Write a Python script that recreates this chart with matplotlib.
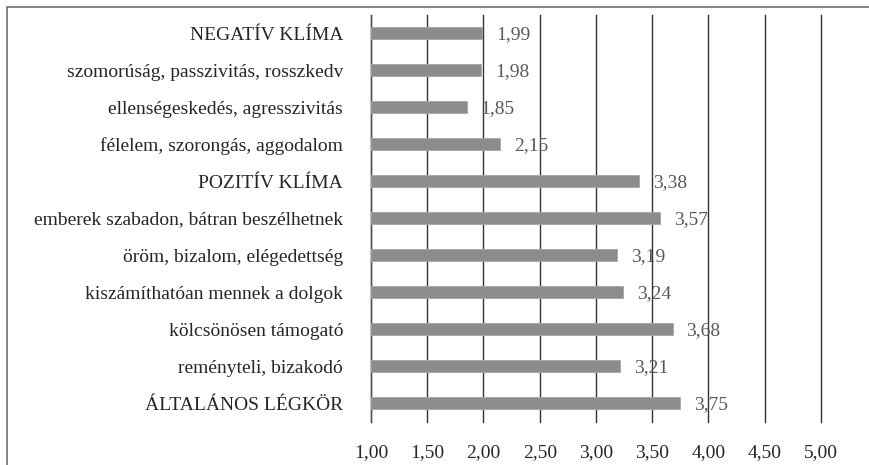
import matplotlib.pyplot as plt
from matplotlib.patches import Rectangle

categories = [
    "NEGATÍV KLÍMA",
    "szomorúság, passzivitás, rosszkedv",
    "ellenségeskedés, agresszivitás",
    "félelem, szorongás, aggodalom",
    "POZITÍV KLÍMA",
    "emberek szabadon, bátran beszélhetnek",
    "öröm, bizalom, elégedettség",
    "kiszámíthatóan mennek a dolgok",
    "kölcsönösen támogató",
    "reményteli, bizakodó",
    "ÁLTALÁNOS LÉGKÖR",
]
values = [1.99, 1.98, 1.85, 2.15, 3.38, 3.57, 3.19, 3.24, 3.68, 3.21, 3.75]
xticks = [1.0, 1.5, 2.0, 2.5, 3.0, 3.5, 4.0, 4.5, 5.0]
xtick_labels = ["1,00", "1,50", "2,00", "2,50", "3,00", "3,50", "4,00", "4,50", "5,00"]

plt.rcParams["font.family"] = ["Liberation Serif", "DejaVu Serif"]

fig = plt.figure(figsize=(8.7, 4.65), dpi=100)
ax = fig.add_axes([371 / 870, 1 - 421.5 / 465, 450 / 870, 407 / 465])

# figure border (only top and left visible in the crop)
fig.patches.append(Rectangle((7.5 / 870, -0.1), 1.2, 1.1 - 7.5 / 465,
                             transform=fig.transFigure, fill=False,
                             edgecolor="#6e6e6e", linewidth=1.2))

y = range(len(categories))
left = 1.0
ax.barh(y, [v - left for v in values], left=left, height=0.34,
        color="#8c8c8c", edgecolor="#a6a6a6", linewidth=0.6, zorder=3)

for i, v in enumerate(values):
    ax.text(v + 0.125, i + 0.05, f"{v:.2f}".replace(".", ","), va="center", ha="left",
            fontsize=14, color="#595959", zorder=4)

ax.set_xlim(1.0, 5.0)
ax.set_ylim(len(categories) - 0.5, -0.5)
ax.set_xticks(xticks)
ax.set_xticklabels(xtick_labels, fontsize=14, color="#262626")
ax.set_yticks(list(y))
ax.set_yticklabels(categories, fontsize=14, color="#262626")
ax.tick_params(axis="both", length=0)
ax.tick_params(axis="y", pad=20)
ax.tick_params(axis="x", pad=16)

ax.grid(axis="x", color="#333333", linewidth=1.0, zorder=0)
for line in ax.get_xgridlines():
    line.set_clip_on(False)
for s in ["top", "right", "bottom"]:
    ax.spines[s].set_visible(False)
ax.spines["left"].set_color("#555555")
ax.spines["left"].set_linewidth(1.0)

fig.savefig("out.png", dpi=100)
